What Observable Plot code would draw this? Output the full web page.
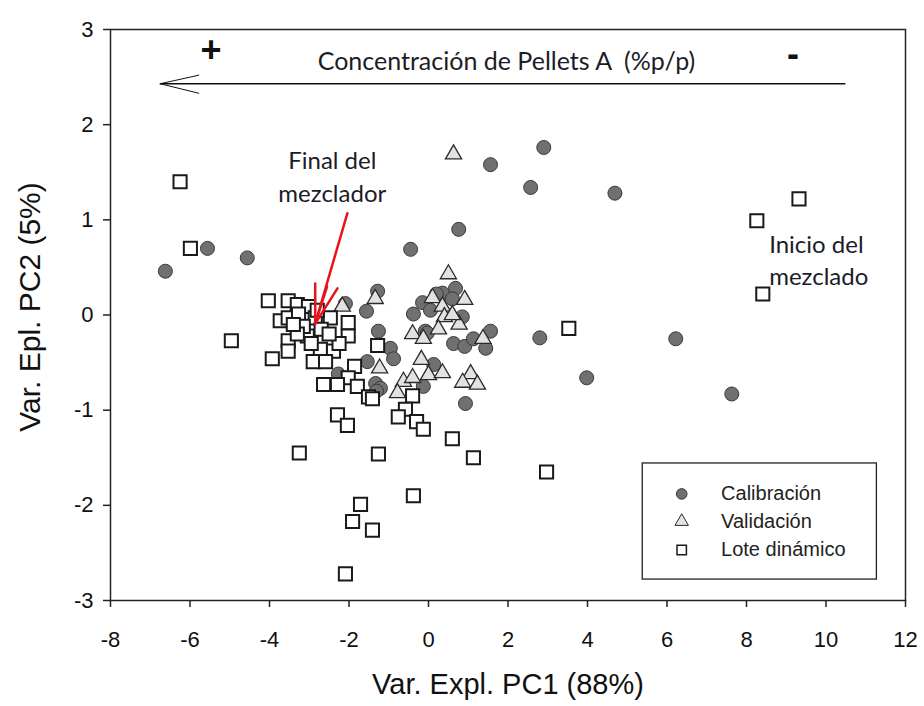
<!DOCTYPE html>
<html><head><meta charset="utf-8">
<script src="https://cdn.jsdelivr.net/npm/d3@7"></script>
<script src="https://cdn.jsdelivr.net/npm/@observablehq/plot@0.6"></script>
<style>body{margin:0;background:#fff} #chart svg{display:block}</style>
</head><body><div id="chart"></div>
<script>
// ---- data ----
const calibracion = [
  [-6.62,0.46],[-5.56,0.70],[-4.56,0.60],[-0.45,0.69],[0.76,0.90],[1.56,1.58],[2.57,1.34],[2.90,1.76],
  [4.69,1.28],[2.80,-0.24],[6.22,-0.25],[3.98,-0.66],[7.63,-0.83],[0.93,-0.93],[1.56,-0.17],
  [-1.28,0.25],[-1.56,0.04],[-2.09,0.12],[-1.26,-0.17],[-0.96,-0.35],[-0.88,-0.46],[-1.54,-0.49],
  [-1.33,-0.72],[-1.21,-0.77],[0.13,-0.52],[-0.08,-0.17],[-0.38,0.01],[-0.13,-0.75],[-1.31,-0.80],
  [-2.27,-0.62],[0.68,0.28],[0.35,0.23],[0.60,0.17],[-0.15,0.13],[0.20,0.22],[0.63,-0.30],[0.91,-0.33],
  [1.13,-0.25],[1.44,-0.35],[0.85,-0.02],[0.05,0.05],[-0.03,-0.19]
];
const validacion = [
  [0.63,1.69],[0.50,0.43],[0.10,0.18],[0.35,0.09],[0.91,0.16],[0.40,-0.02],[0.25,-0.15],[0.77,-0.10],
  [-0.40,-0.20],[-0.13,-0.25],[1.37,-0.25],[-1.34,0.17],[-2.17,0.09],[-0.18,-0.47],[-1.23,-0.56],
  [0.00,-0.63],[0.35,-0.61],[-0.63,-0.70],[-0.40,-0.66],[-0.78,-0.82],[1.06,-0.62],[0.86,-0.71],
  [1.23,-0.73],[0.60,0.00]
];
const loteDinamico = [
  [-6.25,1.40],[-5.99,0.70],[-4.96,-0.27],[9.32,1.22],[8.26,0.99],[8.41,0.22],[3.53,-0.14],[-1.28,-0.32],
  [-4.03,0.15],[-3.53,0.15],[-3.30,0.11],[-3.73,-0.06],[-3.53,-0.03],[-3.02,0.09],[-3.27,0.01],[-2.85,-0.03],
  [-2.47,-0.03],[-2.02,-0.08],[-2.02,-0.22],[-3.53,-0.27],[-3.05,-0.22],[-2.72,-0.36],[-2.39,-0.38],
  [-2.90,-0.49],[-3.93,-0.46],[-3.53,-0.38],[-2.59,-0.49],[-1.86,-0.54],[-2.02,-0.66],[-2.64,-0.73],
  [-2.29,-0.73],[-1.79,-0.75],[-1.51,-0.86],[-2.29,-1.05],[-2.04,-1.16],[-1.41,-0.88],[-3.15,-0.12],
  [-2.95,-0.30],[-3.30,-0.20],[-2.70,-0.15],[-3.40,-0.10],[-2.80,0.05],[-2.25,-0.30],[-2.50,-0.20],
  [-0.40,-0.85],[-0.58,-0.99],[-0.76,-1.07],[-0.30,-1.12],[-0.13,-1.20],[0.60,-1.30],[1.13,-1.50],
  [2.97,-1.65],[-0.38,-1.90],[-1.71,-1.99],[-1.91,-2.17],[-1.41,-2.26],[-2.09,-2.72],[-3.25,-1.45],
  [-1.26,-1.46]
];
const xTicks = [-8,-6,-4,-2,0,2,4,6,8,10,12];
const yTicks = [-3,-2,-1,0,1,2,3];
const xLabel = "Var. Expl. PC1 (88%)";
const yLabel = "Var. Epl. PC2 (5%)";
const legendLabels = ["Calibración","Validación","Lote dinámico"];
const topNote = "Concentración de Pellets A  (%p/p)";
const endNote = "Final del\nmezclador";
const startNote = "Inicio del\nmezclado";

// ---- annotation anchors, in data units ----
const concArrow = {x1: 10.5, x2: -6.75, y: 2.43};
const concHead = [[-5.78,2.52],[-6.75,2.43],[-5.78,2.33]];
const topNotePos = {x: 1.96, y: 2.66};
const plusPos = {x: -5.47, y: 2.78};
const minusPos = {x: 9.17, y: 2.74};
const endNotePos = {x: -2.42, y: 1.47};
const startNotePos = {x: 8.57, y: 0.59};
const redShaft = [[-2.04,1.07],[-2.85,-0.09]];
const redArms = [[[-2.85,0.33],[-2.85,-0.09]],[[-2.29,0.28],[-2.85,-0.09]],[[-2.55,0.30],[-2.85,-0.09]]];
const legendBox = {x1: 5.39, x2: 11.28, y1: -2.78, y2: -1.56};
const legendRowsY = [-1.88, -2.17, -2.47];
const legendMarkX = 6.37, legendTextX = 7.36;

const pts = a => a.map(([x, y]) => ({x, y}));
const sans = "'Liberation Sans', Arial, sans-serif";
const hand = "Lato, 'Open Sans', sans-serif";

const styles = {
  circle: {fill: "#707070", stroke: "#3a3a3a", strokeWidth: 1},
  triangle: {fill: "#e2e2e2", stroke: "#2a2a2a", strokeWidth: 1.3},
  square: {fill: "white", stroke: "#1a1a1a", strokeWidth: 2}
};
const symbols = ["circle", "triangle", "square"];

const chart = Plot.plot({
  width: 924, height: 706,
  marginLeft: 110, marginRight: 19, marginTop: 29, marginBottom: 106,
  x: {domain: [-8, 12]},
  y: {domain: [-3, 3]},
  style: {fontFamily: sans, background: "white", color: "#111"},
  marks: [
    Plot.axisX({ticks: xTicks, tickSize: 7, tickPadding: 24, fontSize: 22, label: null, tickFormat: d => String(d), stroke: "#222", strokeWidth: 1.5}),
    Plot.axisY({ticks: yTicks, tickSize: 7, tickPadding: 10, fontSize: 22, label: null, tickFormat: d => String(d), stroke: "#222", strokeWidth: 1.5}),
    Plot.text([xLabel], {frameAnchor: "bottom", dy: 93, fontSize: 29, fill: "#111"}),
    Plot.text([yLabel], {frameAnchor: "left", textAnchor: "middle", lineAnchor: "middle", dx: -80, dy: -8, rotate: -90, fontSize: 30, fill: "#111"}),
    // concentration arrow
    Plot.ruleY([concArrow], {y: "y", x1: "x1", x2: "x2", stroke: "#111", strokeWidth: 1.5}),
    Plot.line(pts(concHead), {x: "x", y: "y", stroke: "#111", strokeWidth: 1}),
    Plot.text([topNote], {x: () => topNotePos.x, y: () => topNotePos.y, fontFamily: hand, fontSize: 25, fill: "#1c1c28"}),
    Plot.text(["+"], {x: () => plusPos.x, y: () => plusPos.y, fontSize: 36, fontWeight: "bold", fill: "#111"}),
    Plot.text(["-"], {x: () => minusPos.x, y: () => minusPos.y, fontSize: 36, fontWeight: "bold", fill: "#111"}),
    // data
    Plot.dot(pts(calibracion), {x: "x", y: "y", symbol: "circle", r: 7, ...styles.circle}),
    Plot.dot(pts(validacion), {x: "x", y: "y", symbol: "triangle", r: 6, ...styles.triangle}),
    Plot.dot(pts(loteDinamico), {x: "x", y: "y", symbol: "square", r: 7.4, ...styles.square}),
    // notes
    Plot.text([endNote], {x: () => endNotePos.x, y: () => endNotePos.y, fontFamily: hand, fontSize: 24, lineHeight: 1.38, fill: "#1c1c28"}),
    Plot.text([startNote], {x: () => startNotePos.x, y: () => startNotePos.y, textAnchor: "start", fontFamily: hand, fontSize: 24, lineHeight: 1.35, fill: "#1c1c28"}),
    Plot.line(pts(redShaft), {x: "x", y: "y", stroke: "#e8141c", strokeWidth: 2.5}),
    ...redArms.map(a => Plot.line(pts(a), {x: "x", y: "y", stroke: "#e8141c", strokeWidth: 2.5})),
    // legend
    Plot.rect([legendBox], {x1: "x1", x2: "x2", y1: "y1", y2: "y2", fill: "white", stroke: "#222", strokeWidth: 1.3}),
    ...symbols.map((s, i) => Plot.dot([legendLabels[i]], {x: () => legendMarkX, y: () => legendRowsY[i], symbol: s, r: s === "triangle" ? 5 : 5.3, ...styles[s], strokeWidth: s === "square" ? 1.5 : 1})),
    Plot.text(legendLabels, {x: () => legendTextX, y: (d, i) => legendRowsY[i], textAnchor: "start", fontSize: 20, fill: "#222"}),
    Plot.frame({stroke: "#222", strokeWidth: 1.5})
  ]
});
document.getElementById("chart").append(chart);
</script>
</body></html>
